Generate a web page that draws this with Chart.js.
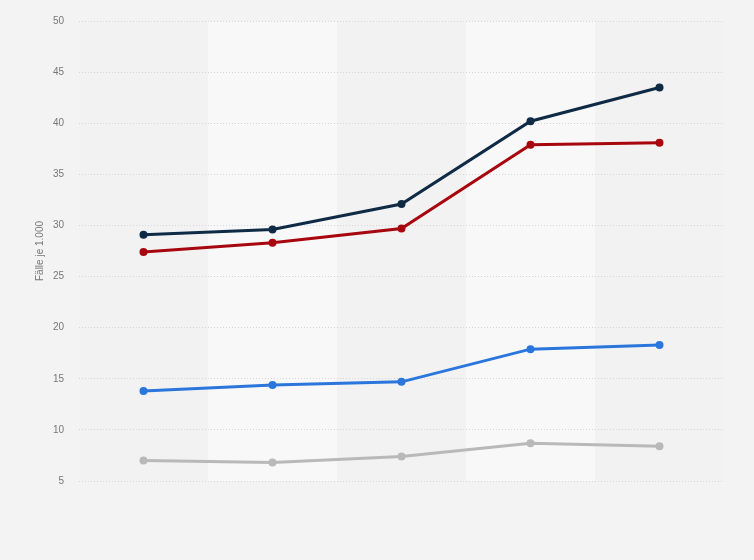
<!DOCTYPE html>
<html>
<head>
<meta charset="utf-8">
<script src="https://cdn.jsdelivr.net/npm/chart.js@4"></script>
<style>
  html, body { margin: 0; padding: 0; background: #f3f3f3; }
  #wrap { width: 754px; height: 560px; }
</style>
</head>
<body>
<div id="wrap"><canvas id="myChart" width="754" height="560"></canvas></div>
<script>
// Kategorien (Jahre, im Original ohne Beschriftung)
const categories = ['1', '2', '3', '4', '5'];

// Werte der vier Reihen (Fälle je 1.000)
const seriesNavy = [29.1, 29.6, 32.1, 40.2, 43.5];
const seriesRed = [27.4, 28.3, 29.7, 37.9, 38.1];
const seriesBlue = [13.8, 14.4, 14.7, 17.9, 18.3];
const seriesGray = [7.0, 6.8, 7.4, 8.7, 8.4];

const yTicks = [5, 10, 15, 20, 25, 30, 35, 40, 45, 50];
const yTitle = 'Fälle je 1.000';

// abwechselnde Spalten im Hintergrund
const bandPlugin = {
    id: 'bands',
    beforeDraw(chart) {
        const { ctx, chartArea, scales } = chart;
        const x = scales.x;
        ctx.save();
        categories.forEach((c, i) => {
            const half = (x.getPixelForValue(1) - x.getPixelForValue(0)) / 2;
            const cx = x.getPixelForValue(i);
            ctx.fillStyle = i % 2 === 1 ? '#f8f8f8' : '#f2f2f2';
            ctx.fillRect(cx - half, chartArea.top, half * 2, chartArea.bottom - chartArea.top);
        });
        ctx.restore();
    }
};

function line(data, color) {
    return {
        data: data,
        borderColor: color,
        backgroundColor: color,
        borderWidth: 3,
        pointRadius: 4,
        pointBorderWidth: 0,
        pointHoverRadius: 4,
        tension: 0
    };
}

const ctx = document.querySelector('#myChart');
new Chart(ctx, {
    type: 'line',
    data: {
        labels: categories,
        datasets: [
            line(seriesNavy, '#0f2a45'),
            line(seriesRed, '#a8060f'),
            line(seriesBlue, '#2a76dd'),
            line(seriesGray, '#b9b9b9')
        ]
    },
    options: {
        responsive: false,
        animation: false,
        layout: { padding: { left: 0, right: 30, top: 15, bottom: 79 } },
        plugins: { legend: { display: false }, tooltip: { enabled: false } },
        scales: {
            x: {
                display: false,
                offset: true
            },
            y: {
                min: 5,
                max: 50,
                afterFit(scale) { scale.width = 79; },
                afterBuildTicks(scale) { scale.ticks = yTicks.map(v => ({ value: v })); },
                ticks: {
                    padding: 15,
                    color: '#777',
                    font: { family: 'Liberation Sans, Arial, sans-serif', size: 10 }
                },
                grid: { color: '#d6d6d6', drawTicks: false, lineWidth: 1 },
                border: { display: false, dash: [1, 2] },
                title: {
                    display: true,
                    text: yTitle,
                    color: '#777',
                    padding: { top: 34, bottom: 0 },
                    font: { family: 'Liberation Sans, Arial, sans-serif', size: 10 }
                }
            }
        }
    },
    plugins: [bandPlugin]
});
</script>
</body>
</html>
